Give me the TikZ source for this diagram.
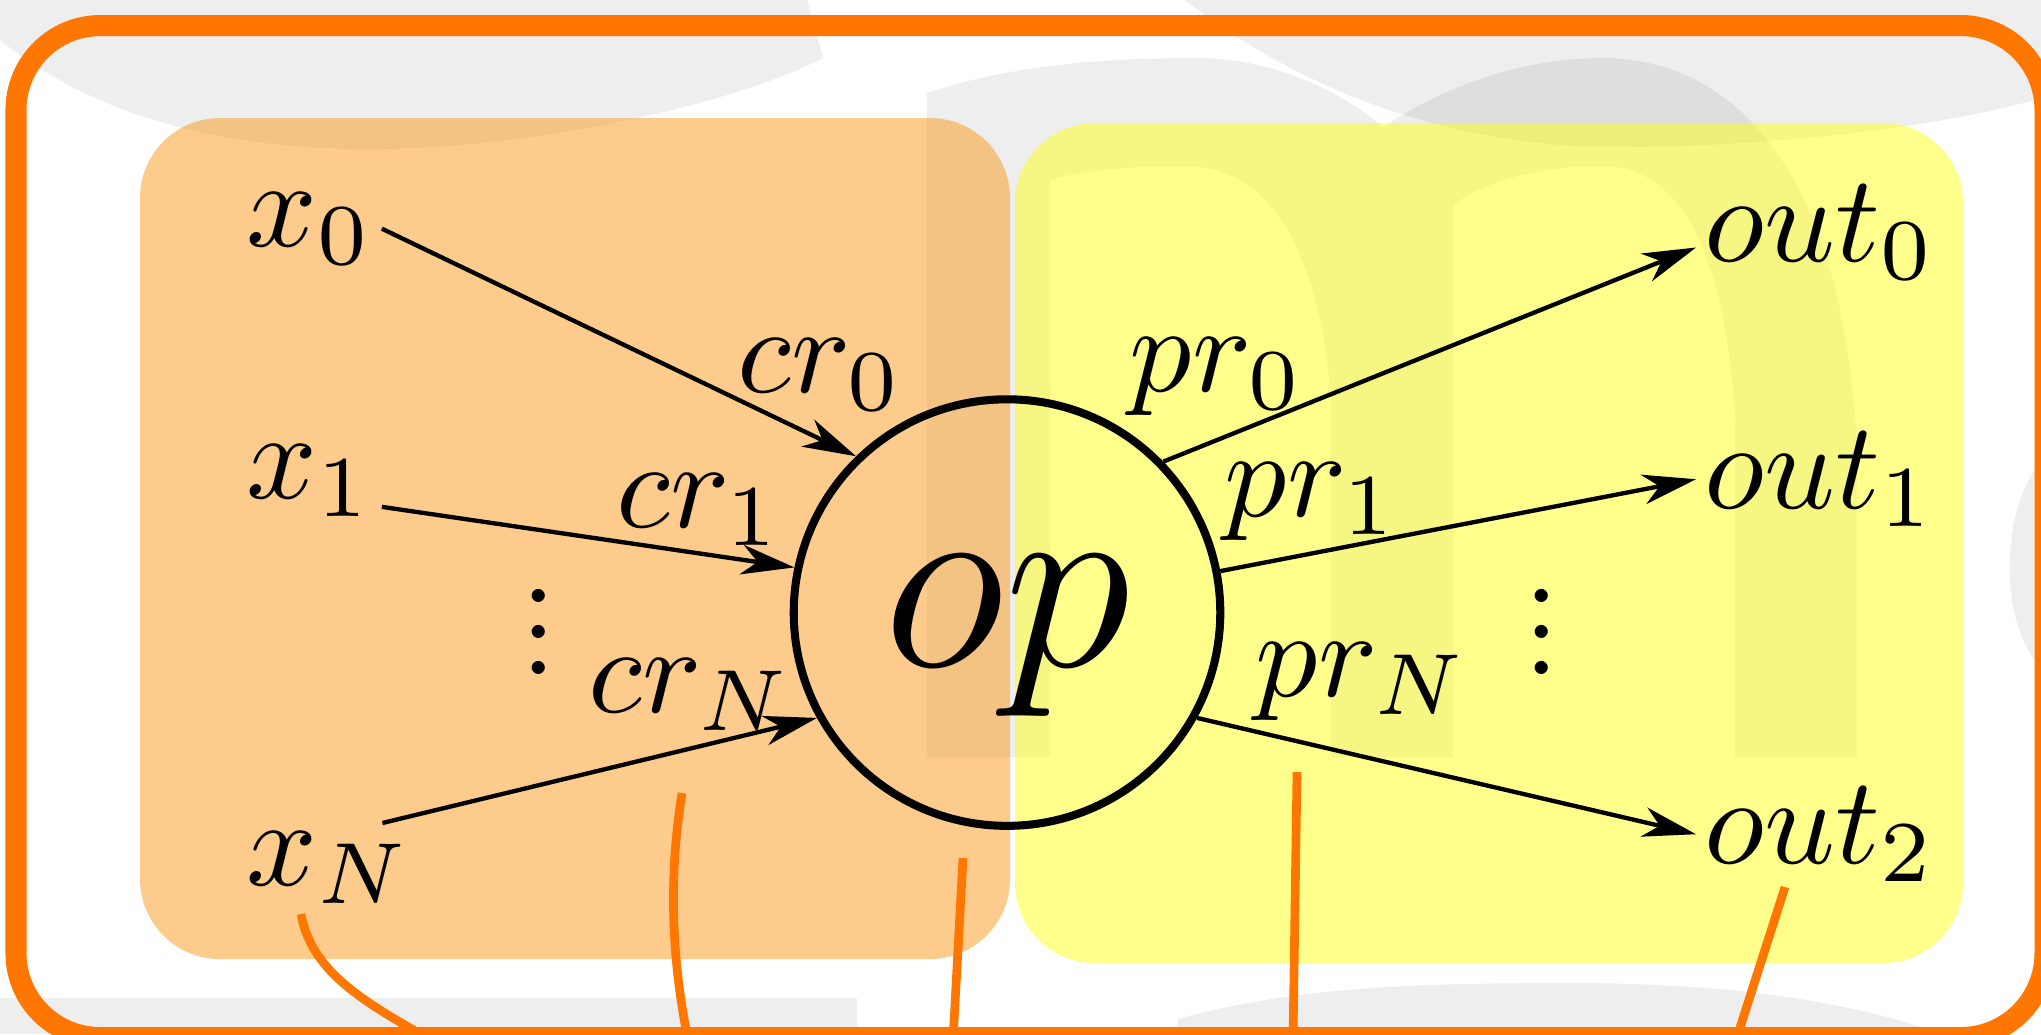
\documentclass[tikz,border=0pt]{standalone}
\usepackage{xcolor}
\definecolor{cFrame}{HTML}{FF7700}
\definecolor{cIn}{HTML}{FA8E00}
\definecolor{cOut}{HTML}{FFFF00}
\usepackage{tikz}
\usetikzlibrary{arrows.meta}
\tikzset{
  node-op/.style={draw,circle,line width=0.65pt,inner sep=0pt,
    minimum size=34.4pt,font=\huge,text height=12.7pt,text depth=4pt},
  node-lbl/.style={inner sep=0.5pt,anchor=base west},
  node-dots/.style={inner sep=0pt},
  % boxes are see-through, the grey shapes behind show as darker bands
  box-in/.style={fill=cIn,fill opacity=0.45,rounded corners=6.45pt},
  box-out/.style={fill=cOut,fill opacity=0.45,rounded corners=6.45pt},
  ghost/.style={fill=black,fill opacity=0.067},
  frame/.style={draw=cFrame,line width=1.7pt,rounded corners=6.8pt},
  trail/.style={draw=cFrame,line width=0.7pt},
  arrow/.style={-{Stealth[length=4.3pt,width=2.4pt,inset=1.3pt]},line width=0.35pt},
}
\newcommand{\vdotsS}{\vbox{\baselineskip2.9pt\lineskiplimit0pt\hbox{.}\hbox{.}\hbox{.}}}

\begin{document}
\begin{tikzpicture}[x=8.0645pt,y=-8.0645pt]
  \clip (0,0) rectangle (20.41,10.34);
  % grey shapes in the back
  \fill[ghost] (0,0) -- (0,0.40) .. controls (1.00,1.20) and (2.30,1.50) .. (3.78,1.49)
    .. controls (5.20,1.48) and (7.20,1.10) .. (8.23,0.58) -- (8.07,0) -- cycle;
  \fill[ghost] (11.85,0) .. controls (13.00,0.90) and (14.50,1.47) .. (16.15,1.47)
    .. controls (17.80,1.47) and (19.50,1.25) .. (20.41,0.98) -- (20.41,0) -- cycle;
  \fill[ghost] (9.27,7.57) -- (9.27,0.93) .. controls (10.20,0.62) and (11.20,0.58) .. (11.98,0.58)
    .. controls (12.70,0.58) and (13.40,0.90) .. (13.83,1.27)
    .. controls (14.30,0.95) and (15.10,0.58) .. (16.02,0.58)
    .. controls (17.40,0.58) and (18.45,1.80) .. (18.57,4.50) -- (18.57,7.57) -- (17.35,7.57)
    -- (17.35,4.20) .. controls (17.25,2.50) and (16.80,1.66) .. (16.02,1.66)
    .. controls (15.30,1.66) and (14.80,1.85) .. (14.53,2.05) -- (14.53,7.57) -- (13.31,7.57)
    -- (13.31,4.00) .. controls (13.20,2.50) and (12.70,1.66) .. (11.85,1.66)
    .. controls (11.20,1.66) and (10.75,1.72) .. (10.50,1.80) -- (10.50,7.57) -- cycle;
  \fill[ghost] (0,9.98) rectangle (8.57,10.34);
  \fill[ghost] (11.78,10.34) -- (11.78,10.19) .. controls (13.00,9.85) and (14.30,9.83) .. (15.75,9.83)
    .. controls (17.20,9.83) and (18.50,10.00) .. (19.40,10.34) -- cycle;
  \fill[ghost] (20.41,4.60) .. controls (20.15,4.95) and (20.08,5.40) .. (20.10,5.80)
    .. controls (20.12,6.20) and (20.25,6.50) .. (20.41,6.68) -- cycle;

  \fill[box-in] (1.40,1.18) rectangle (10.10,9.59);
  \fill[box-out] (10.15,1.23) rectangle (19.63,9.63);

  \draw[trail] (3.01,9.14) .. controls (3.12,9.75) and (3.70,10.05) .. (4.40,10.45);
  \draw[trail] (6.82,7.93) .. controls (6.68,8.80) and (6.72,9.60) .. (6.88,10.40);
  \draw[trail] (9.63,8.58) -- (9.53,10.40);
  \draw[trail] (12.97,7.72) -- (12.93,10.40);
  \draw[trail] (17.85,8.87) -- (17.36,10.40);
  \draw[frame] (0.16,0.255) rectangle (20.45,10.375);

  \node[node-op] (op) at (10.07,6.125) {$op$};
  \node[node-lbl] (x0) at (2.38,2.46) {$x_0$};
  \node[node-lbl] (x1) at (2.38,4.98) {$x_1$};
  \node[node-lbl] (xN) at (2.38,8.85) {$x_N$};
  \node[node-lbl] (cr0) at (7.29,3.92) {$cr_0$};
  \node[node-lbl] (cr1) at (6.08,5.27) {$cr_1$};
  \node[node-lbl] (crN) at (5.80,7.12) {$cr_N$};
  \node[node-lbl] (pr0) at (11.21,3.91) {$pr_0$};
  \node[node-lbl] (pr1) at (12.16,5.16) {$pr_1$};
  \node[node-lbl] (prN) at (12.47,6.96) {$pr_N$};
  \node[node-lbl] (out0) at (16.96,2.61) {$out_0$};
  \node[node-lbl] (out1) at (16.96,5.08) {$out_1$};
  \node[node-lbl] (out2) at (16.96,8.63) {$out_2$};
  \node[node-dots] (ldots) at (5.39,6.32) {\vdotsS};
  \node[node-dots] (rdots) at (15.42,6.32) {\vdotsS};

  \draw[arrow] (x0.east) -- (op.134);
  \draw[arrow] (x1.-20) -- (op.168);
  \draw[arrow] (xN.40) -- (op.209);
  \draw[arrow] (op.44) -- (out0.-173);
  \draw[arrow] (op.11.5) -- (out1.west);
  \draw[arrow] (op.331) -- (out2.west);
\end{tikzpicture}
\end{document}
